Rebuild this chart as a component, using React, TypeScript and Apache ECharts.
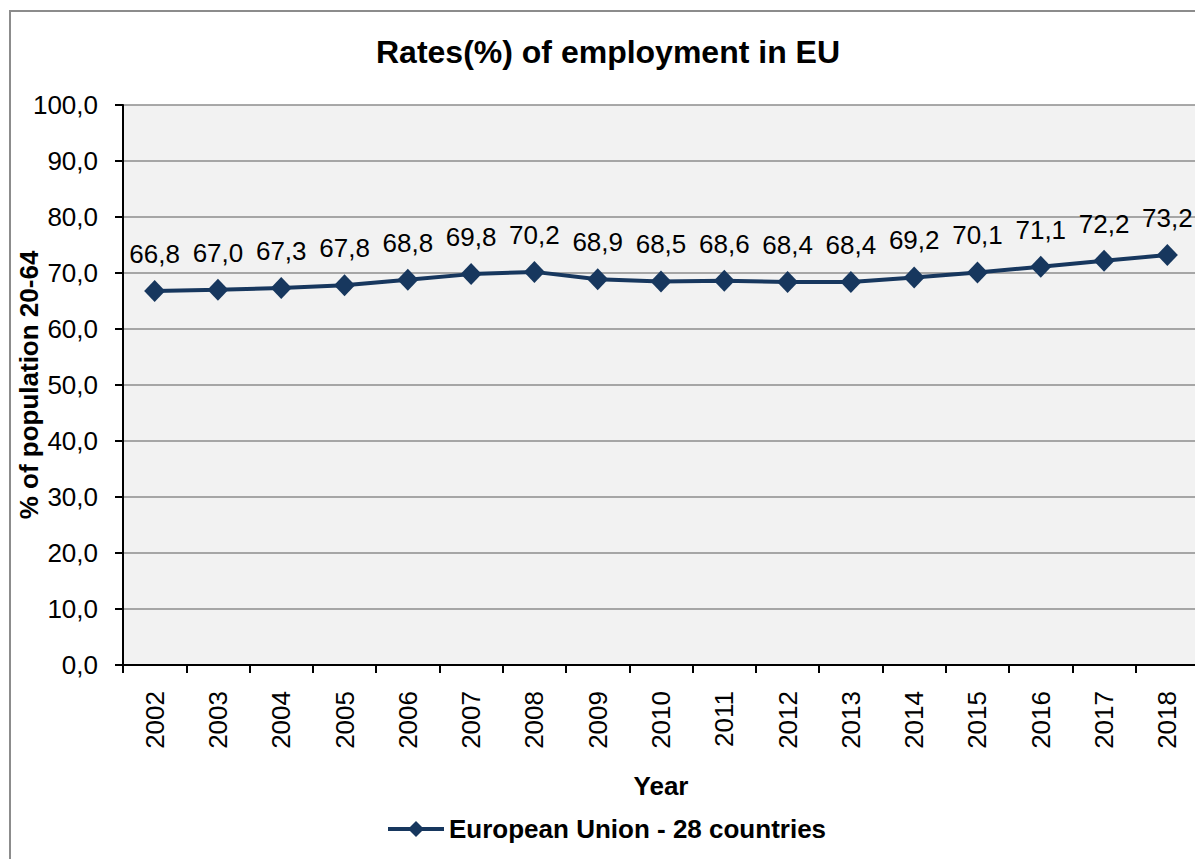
import React, { useEffect, useRef } from "react";
import * as echarts from "echarts";

const years = ["2002","2003","2004","2005","2006","2007","2008","2009","2010","2011","2012","2013","2014","2015","2016","2017","2018"];
const euRates = [66.8, 67.0, 67.3, 67.8, 68.8, 69.8, 70.2, 68.9, 68.5, 68.6, 68.4, 68.4, 69.2, 70.1, 71.1, 72.2, 73.2];
const seriesName = "European Union - 28 countries";
const titleText = "Rates(%) of employment in EU";

const FONT = "'Liberation Sans', Arial, sans-serif";
const fmt = (v: number) => v.toFixed(1).replace(".", ",");

export default function App() {
  const ref = useRef<HTMLDivElement>(null);
  useEffect(() => {
    document.body.style.margin = "0";
    const chart = echarts.init(ref.current!, null, { renderer: "svg" });
    chart.setOption({
      animation: false,
      backgroundColor: "#ffffff",
      textStyle: { fontFamily: FONT },
      title: {
        text: titleText,
        left: 603,
        top: 31,
        textAlign: "center",
        textStyle: { fontFamily: FONT, fontSize: 32, fontWeight: "bold", color: "#000" },
      },
      graphic: [
        {
          type: "rect",
          shape: { x: 10, y: 11, width: 1300, height: 1000 },
          style: { fill: "none", stroke: "#8c8c8c", lineWidth: 2 },
          silent: true,
          z: -10,
        },
      ],
      legend: {
        data: [seriesName],
        left: 381,
        top: 811,
        itemWidth: 56,
        itemHeight: 20,
        itemGap: 4,
        lineStyle: { width: 4 },
        textStyle: { fontFamily: FONT, fontSize: 26, fontWeight: "bold", color: "#000" },
      },
      grid: {
        left: 123,
        right: -4,
        top: 105,
        bottom: 194,
        show: true,
        backgroundColor: "#f2f2f2",
        borderWidth: 0,
        outerBoundsMode: "none",
        containLabel: false,
      },
      xAxis: {
        type: "category",
        data: years,
        boundaryGap: true,
        name: "Year",
        nameLocation: "middle",
        nameGap: 108,
        nameMoveOverlap: false,
        nameTextStyle: { fontFamily: FONT, fontSize: 26, fontWeight: "bold", color: "#000" },
        axisLine: { show: true, lineStyle: { color: "#000", width: 2 } },
        axisTick: { show: true, alignWithLabel: false, length: 8, lineStyle: { color: "#000", width: 2 } },
        axisLabel: { rotate: 90, fontFamily: FONT, fontSize: 26, color: "#000", margin: 26 },
        splitLine: { show: false },
      },
      yAxis: {
        type: "value",
        min: 0,
        max: 100,
        interval: 10,
        name: "% of population 20-64",
        nameLocation: "middle",
        nameGap: 81,
        nameMoveOverlap: false,
        nameTextStyle: { fontFamily: FONT, fontSize: 26, fontWeight: "bold", color: "#000" },
        axisLine: { show: true, lineStyle: { color: "#000", width: 2 } },
        axisTick: { show: true, length: 8, lineStyle: { color: "#000", width: 2 } },
        axisLabel: { formatter: (v: number) => fmt(v), fontFamily: FONT, fontSize: 26, color: "#000", margin: 25 },
        splitLine: { show: true, lineStyle: { color: "#8c8c8c", width: 1.5 } },
      },
      series: [
        {
          name: seriesName,
          type: "line",
          data: euRates,
          symbol: "diamond",
          symbolSize: [21, 22],
          lineStyle: { color: "#17375e", width: 4 },
          itemStyle: { color: "#17375e" },
          label: {
            show: true,
            position: "top",
            distance: 13,
            formatter: (p: any) => fmt(p.value),
            fontFamily: FONT,
            fontSize: 26,
            color: "#000",
          },
        },
      ],
    });
    return () => chart.dispose();
  }, []);
  return <div ref={ref} style={{ width: 1195, height: 859 }} />;
}
